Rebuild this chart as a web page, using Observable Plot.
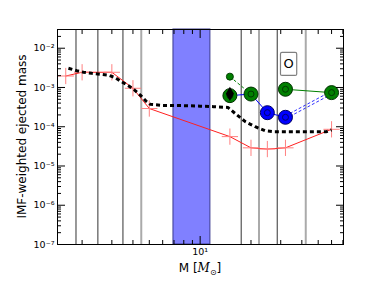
<!DOCTYPE html>
<html><head><meta charset="utf-8">
<script src="https://cdn.jsdelivr.net/npm/d3@7"></script>
<script src="https://cdn.jsdelivr.net/npm/@observablehq/plot@0.6"></script>
<style>body{margin:0;background:#fff}</style>
</head><body><div id="chart"></div>
<script>
// ---- data ----
const massRed = [1.6, 2, 3, 4, 5, 15, 20, 25, 32, 60];
const yieldRed = [1.96e-3, 2.44e-3, 2.44e-3, 9.55e-4, 2.91e-4, 5.6e-5, 2.9e-5, 2.7e-5, 2.9e-5, 8.6e-5];

const massBlack = [1.66, 1.86, 2.04, 2.28, 2.56, 2.87, 3.14, 3.41, 3.76, 4.09, 4.42, 4.77, 5.06, 6, 8, 10, 12, 14.6, 16.5, 18.5, 21.2, 24.2, 27, 40, 56, 60];
const yieldBlack = [3.09e-3, 2.68e-3, 2.44e-3, 2.30e-3, 2.17e-3, 2.05e-3, 1.78e-3, 1.41e-3, 1.11e-3, 8.6e-4, 6.4e-4, 4.53e-4, 3.72e-4, 3.5e-4, 3.45e-4, 3.35e-4, 3.25e-4, 3.1e-4, 2.0e-4, 1.35e-4, 1.0e-4, 7.9e-5, 7.5e-5, 7.5e-5, 7.5e-5, 8.3e-5];

const massGreen = [15, 20, 32, 60];
const yieldGreen = [6.2e-4, 6.8e-4, 9.0e-4, 7.4e-4];
const massBlue = [25, 32];
const yieldBlue = [2.28e-4, 1.74e-4];

const massBluePath = [15, 20, 25, 32];
const yieldBluePath = [6.2e-4, 6.8e-4, 2.28e-4, 1.74e-4];
const massBlueDash = [32, 60];
const yieldBlueDash = [1.74e-4, 7.4e-4];
const massGreenSolid = [32, 60];
const yieldGreenSolid = [9.0e-4, 7.4e-4];
const massGreenDash = [15, 20];
const yieldGreenDash = [1.89e-3, 6.8e-4];
const massSmallGreen = [15];
const yieldSmallGreen = [1.89e-3];
const massDiamond = [15];
const yieldDiamond = [6.9e-4];

const darkLines = [1.84, 2.48, 3.49, 17.5, 28.6];
const grayLines = [4.48, 22.3, 42.2];
const bandStart = [6.95];
const bandEnd = [11.5];

const annoText = ["O"];
const annoMass = [33.4];
const annoYield = [3.9e-3];

const yTicks = [1e-7, 1e-6, 1e-5, 1e-4, 1e-3, 1e-2];
const yTickLabels = ["10\u207B\u2077", "10\u207B\u2076", "10\u207B\u2075", "10\u207B\u2074", "10\u207B\u00B3", "10\u207B\u00B2"];
const xTicks = [10];
const xTickLabels = ["10\u00B9"];
const yLabel = "IMF-weighted ejected mass";

// ---- build ----
const zip = (xs, ys) => xs.map((x, i) => ({x, y: ys[i]}));
const yMinor = [];
for (let e = -7; e <= -2; e++) for (let m = 2; m <= 9; m++) { const v = m * 10 ** e; if (v <= 3e-2) yMinor.push(v); }
const xMinor = [2,3,4,5,6,7,8,9,20,30,40,50,60,70];
const blank = () => "";

const W = 382, H = 288, ML = 57, MR = 39, MT = 29, MB = 44;

const plot = Plot.plot({
  width: W, height: H,
  marginLeft: ML, marginRight: MR, marginTop: MT, marginBottom: MB,
  style: {fontFamily: "DejaVu Sans", fontSize: "9.5px", background: "white", color: "black", overflow: "visible"},
  x: {type: "log", domain: [1.43, 70.6], label: null},
  y: {type: "log", domain: [1e-7, 3e-2], label: null},
  marks: [
    Plot.rect(bandStart.map((s, i) => ({x1: s, x2: bandEnd[i]})), {x1: "x1", x2: "x2", fill: "#8080ff", stroke: "#3a3a90", strokeWidth: 1}),
    Plot.ruleX(grayLines, {stroke: "#aaaaaa", strokeWidth: 2}),
    Plot.ruleX(darkLines, {stroke: "#333333", strokeWidth: 1}),
    Plot.line(zip(massRed, yieldRed), {x: "x", y: "y", stroke: "#ff2020", strokeWidth: 1}),
    Plot.dot(zip(massRed, yieldRed), {x: "x", y: "y", symbol: "plus", r: 5.3, stroke: "#ff8080", strokeWidth: 1}),
    Plot.line(zip(massBlack, yieldBlack), {x: "x", y: "y", stroke: "black", strokeWidth: 3, strokeDasharray: "4,3", strokeLinecap: "butt", strokeLinejoin: "miter"}),
    Plot.line(zip(massGreenDash, yieldGreenDash), {x: "x", y: "y", stroke: "#008000", strokeWidth: 1, strokeDasharray: "3,2", strokeLinecap: "butt"}),
    Plot.line(zip(massGreenSolid, yieldGreenSolid), {x: "x", y: "y", stroke: "#008000", strokeWidth: 1}),
    Plot.line(zip(massBluePath, yieldBluePath), {x: "x", y: "y", stroke: "#0000ff", strokeWidth: 1}),
    Plot.line(zip(massBlueDash, yieldBlueDash), {x: "x", y: "y", stroke: "#3030ff", strokeWidth: 1, strokeDasharray: "3,2", strokeLinecap: "butt", dy: -1.5}),
    Plot.line(zip(massBlueDash, yieldBlueDash), {x: "x", y: "y", stroke: "#3030ff", strokeWidth: 1, strokeDasharray: "3,2", strokeLinecap: "butt", dy: 1.5}),
    Plot.dot(zip(massSmallGreen, yieldSmallGreen), {x: "x", y: "y", r: 3.5, fill: "#008000", stroke: "#004000", strokeWidth: 1}),
    Plot.dot(zip(massGreen, yieldGreen), {x: "x", y: "y", r: 7, fill: "#008000", stroke: "#003000", strokeWidth: 1}),
    Plot.dot(zip(massGreen, yieldGreen), {x: "x", y: "y", r: 3, fill: "none", stroke: "#003800", strokeWidth: 1}),
    Plot.dot(zip(massBlue, yieldBlue), {x: "x", y: "y", r: 7, fill: "#0000ff", stroke: "#000060", strokeWidth: 1}),
    Plot.dot(zip(massBlue, yieldBlue), {x: "x", y: "y", r: 3, fill: "none", stroke: "#000070", strokeWidth: 1}),
    Plot.dot(zip(massDiamond, yieldDiamond), {x: "x", y: "y", symbol: "diamond", r: 4.3, fill: "black"}),
    Plot.text(annoText.map((t, i) => ({t, x: annoMass[i], y: annoYield[i]})), {x: "x", y: "y", text: "t", fontSize: 13}),
    Plot.frame({stroke: "black"}),
    Plot.axisY(yTicks, {anchor: "left", tickSize: -8, tickPadding: 11, tickFormat: d => yTickLabels[yTicks.indexOf(d)], label: null}),
    Plot.axisY(yMinor, {anchor: "left", tickSize: -4, tickFormat: blank, label: null}),
    Plot.axisY(yTicks, {anchor: "right", tickSize: -8, tickFormat: blank, label: null}),
    Plot.axisY(yMinor, {anchor: "right", tickSize: -4, tickFormat: blank, label: null}),
    Plot.axisX(xTicks, {anchor: "bottom", tickSize: -8, tickPadding: 12, tickFormat: d => xTickLabels[xTicks.indexOf(d)], label: null}),
    Plot.axisX(xMinor, {anchor: "bottom", tickSize: -4, tickFormat: blank, label: null}),
    Plot.axisX(xTicks, {anchor: "top", tickSize: -8, tickFormat: blank, label: null}),
    Plot.axisX(xMinor, {anchor: "top", tickSize: -4, tickFormat: blank, label: null})
  ]
});
document.getElementById("chart").appendChild(plot);

const s = d3.select(plot);
// box around annotation text
s.selectAll("text").filter(function() { return annoText.includes(this.textContent); }).each(function() {
  const bb = this.getBBox();
  const tr = this.getAttribute("transform");
  const r = d3.select(this.parentNode).insert("rect", () => this)
    .attr("x", bb.x - 3).attr("y", bb.y - 4)
    .attr("width", bb.width + 6).attr("height", bb.height + 8)
    .attr("rx", 1.5).attr("fill", "white").attr("stroke", "#808080").attr("stroke-width", 1.2);
  if (tr) r.attr("transform", tr);
});

// y-axis label
s.append("text")
  .attr("transform", `translate(22,${(MT + H - MB) / 2}) rotate(-90)`)
  .attr("text-anchor", "middle").attr("dominant-baseline", "middle")
  .attr("font-size", 12).attr("font-family", "DejaVu Sans").attr("fill", "black")
  .text(yLabel);

// x-axis label with math
const xl = s.append("text")
  .attr("x", (ML + W - MR) / 2).attr("y", H - MB + 28)
  .attr("text-anchor", "middle").attr("font-size", 12).attr("font-family", "DejaVu Sans").attr("fill", "black");
xl.append("tspan").text("M [");
xl.append("tspan").attr("font-family", "DejaVu Serif").attr("font-style", "italic").text("M");
xl.append("tspan").attr("font-size", 8).attr("dy", 3).text("\u2299");
xl.append("tspan").attr("dy", -3).text("]");
</script></body></html>
